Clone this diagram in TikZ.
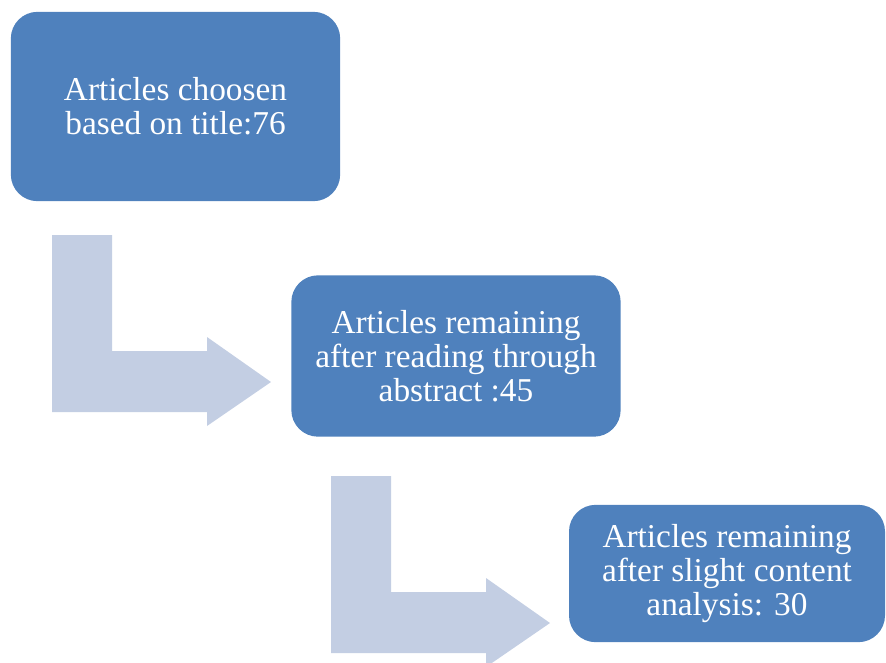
\documentclass[tikz,border=0pt]{standalone}
\usepackage{fontspec}
\setmainfont{Liberation Serif}
\definecolor{boxblue}{RGB}{79,129,189}
\definecolor{arrowgray}{RGB}{195,206,227}

\begin{document}
\begin{tikzpicture}[x=0.75pt,y=-0.75pt,
  stage/.style={rectangle,rounded corners=20pt,fill=boxblue,text=white,
    align=center,font=\fontsize{25}{25.5}\selectfont,inner sep=0pt}]
\clip (0,0) rectangle (886,662);
\useasboundingbox (0,0) rectangle (886,662);
% bent arrows
  \foreach \dx/\dy in {0/0,279/241}
    {
     \fill[arrowgray,shift={(\dx,\dy)}] (52,235) -- (112,235) -- (112,351) -- (207,351) -- (207,337)
       -- (271,382) -- (207,426) -- (207,412) -- (52,412) -- cycle;
    }
% stages
  \node[stage,minimum width=247pt,minimum height=142pt] (title)    at (175.5,106.5) {Articles choosen\\based on title:76};
  \node[stage,minimum width=247pt,minimum height=121pt] (abstract) at (456,356)     {Articles remaining\\after reading through\\abstract :45};
  \node[stage,minimum width=237pt,minimum height=103pt] (content)  at (727,573.5)   {Articles remaining\\after slight content\\analysis: 30};
\end{tikzpicture}
\end{document}
